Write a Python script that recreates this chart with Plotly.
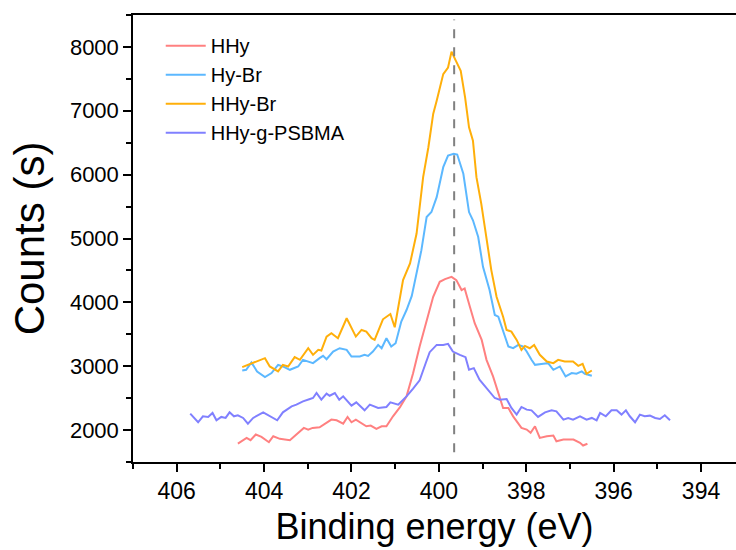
import plotly.graph_objects as go

# ---------------- data ----------------
hhy_x = [404.60, 404.40, 404.31, 404.19, 404.06, 403.89, 403.79, 403.64, 403.41, 403.26,
         403.09, 402.99, 402.89, 402.73, 402.59, 402.46, 402.34, 402.19, 402.09, 402.00,
         401.90, 401.77, 401.66, 401.56, 401.43, 401.31, 401.20, 401.05, 400.89, 400.74,
         400.59, 400.44, 400.28, 400.13, 399.98, 399.86, 399.71, 399.60, 399.48, 399.41,
         399.29, 399.18, 399.02, 398.91, 398.76, 398.64, 398.53, 398.41, 398.30, 398.11,
         397.99, 397.90, 397.80, 397.69, 397.53, 397.38, 397.31, 397.15, 396.92, 396.77,
         396.70, 396.60]
hhy_y = [1789, 1878, 1841, 1930, 1893, 1810, 1903, 1863, 1841, 1930,
         2034, 2008, 2034, 2044, 2101, 2164, 2153, 2101, 2205, 2122,
         2164, 2112, 2060, 2070, 2018, 2060, 2060, 2216, 2360, 2530,
         2890, 3308, 3724, 4088, 4322, 4364, 4400, 4349, 4193, 4219,
         3932, 3673, 3412, 3100, 2840, 2581, 2346, 2346, 2215, 2034,
         2008, 1956, 2059, 1878, 1903, 1914, 1825, 1852, 1852, 1800,
         1758, 1785]

hybr_x = [404.50, 404.41, 404.29, 404.16, 403.98, 403.83, 403.68, 403.57, 403.41, 403.22,
          403.11, 402.99, 402.88, 402.73, 402.65, 402.57, 402.42, 402.27, 402.11, 402.00,
          401.81, 401.70, 401.62, 401.51, 401.39, 401.31, 401.20, 401.09, 400.99, 400.86,
          400.74, 400.62, 400.51, 400.40, 400.28, 400.17, 400.05, 399.90, 399.79, 399.66,
          399.58, 399.44, 399.31, 399.22, 399.10, 398.99, 398.84, 398.72, 398.64, 398.53,
          398.41, 398.30, 398.18, 398.07, 397.99, 397.88, 397.80, 397.61, 397.50, 397.38,
          397.23, 397.10, 396.96, 396.85, 396.73, 396.66, 396.50]
hybr_y = [2933, 2944, 3058, 2918, 2830, 2893, 3022, 2996, 2944, 2996,
          3100, 3074, 3048, 3126, 3162, 3110, 3230, 3282, 3256, 3152,
          3152, 3178, 3162, 3230, 3334, 3282, 3438, 3308, 3360, 3700,
          3880, 4100, 4453, 4817, 5336, 5414, 5648, 6117, 6299, 6326,
          6315, 6013, 5414, 5285, 5024, 4556, 4193, 3802, 3776, 3568,
          3308, 3282, 3334, 3308, 3230, 3100, 3022, 3038, 3048, 2944,
          2996, 2840, 2893, 2882, 2918, 2882, 2850]

hhybr_x = [404.50, 404.37, 404.17, 403.98, 403.87, 403.68, 403.57, 403.45, 403.30, 403.18,
           402.99, 402.88, 402.76, 402.69, 402.57, 402.46, 402.31, 402.11, 401.90, 401.77,
           401.66, 401.54, 401.47, 401.28, 401.11, 401.01, 400.82, 400.66, 400.51, 400.36,
           400.24, 400.13, 400.05, 399.90, 399.79, 399.71, 399.61, 399.50, 399.40, 399.31,
           399.22, 399.14, 399.03, 398.91, 398.80, 398.68, 398.53, 398.45, 398.34, 398.22,
           398.11, 398.03, 397.92, 397.82, 397.69, 397.53, 397.38, 397.27, 397.12, 396.93,
           396.81, 396.71, 396.62, 396.50]
hhybr_y = [2986, 3022, 3074, 3126, 2996, 2918, 3022, 2996, 3142, 3100,
           3282, 3178, 3256, 3246, 3464, 3516, 3438, 3751, 3464, 3568,
           3542, 3438, 3412, 3735, 3818, 3610, 4349, 4609, 5077, 5961,
           6429, 6950, 7158, 7574, 7677, 7927, 7782, 7626, 7209, 6741,
           6533, 5961, 5546, 5024, 4505, 4088, 3776, 3568, 3542, 3412,
           3256, 3318, 3282, 3334, 3178, 3074, 3048, 3100, 3074, 3074,
           3006, 3038, 2882, 2933]

psbma_x = [405.69, 405.51, 405.40, 405.28, 405.18, 405.09, 404.98, 404.88, 404.79, 404.69,
           404.60, 404.48, 404.37, 404.25, 404.02, 403.87, 403.70, 403.57, 403.37, 403.26,
           403.11, 402.95, 402.88, 402.80, 402.69, 402.57, 402.50, 402.38, 402.28, 402.19,
           402.00, 401.89, 401.70, 401.58, 401.39, 401.20, 401.11, 400.93, 400.74, 400.59,
           400.44, 400.30, 400.21, 400.05, 399.90, 399.79, 399.68, 399.52, 399.39, 399.31,
           399.20, 399.07, 398.91, 398.72, 398.61, 398.45, 398.34, 398.22, 398.11, 397.99,
           397.88, 397.73, 397.57, 397.42, 397.31, 397.15, 397.04, 396.93, 396.77, 396.62,
           396.50, 396.39, 396.31, 396.18, 396.05, 395.93, 395.82, 395.72, 395.63, 395.51,
           395.40, 395.29, 395.17, 395.05, 394.94, 394.83, 394.71]
psbma_y = [2258, 2122, 2216, 2206, 2268, 2153, 2206, 2190, 2278, 2216,
           2232, 2190, 2101, 2190, 2278, 2216, 2153, 2278, 2371, 2398,
           2450, 2487, 2502, 2580, 2476, 2570, 2538, 2580, 2476, 2528,
           2382, 2434, 2309, 2398, 2346, 2362, 2434, 2398, 2528, 2650,
           2780, 3050, 3220, 3334, 3334, 3350, 3230, 3178, 3142, 2944,
           2970, 2788, 2658, 2502, 2476, 2487, 2346, 2242, 2362, 2320,
           2309, 2206, 2278, 2309, 2294, 2164, 2190, 2164, 2216, 2164,
           2190, 2153, 2268, 2216, 2309, 2309, 2242, 2309, 2216, 2122,
           2242, 2216, 2226, 2190, 2174, 2232, 2153]

series_names = ["HHy", "Hy-Br", "HHy-Br", "HHy-g-PSBMA"]
series_colors = ["#FF8080", "#5CB8FF", "#FFAF0A", "#8080FF"]
peak_position = 399.65

x_tickvals = [406, 404, 402, 400, 398, 396, 394]
y_tickvals = [2000, 3000, 4000, 5000, 6000, 7000, 8000]

# ---------------- figure ----------------
FONT = "Liberation Sans, Arial, sans-serif"
fig = go.Figure()
for name, xs, ys, col in zip(series_names,
                             [hhy_x, hybr_x, hhybr_x, psbma_x],
                             [hhy_y, hybr_y, hhybr_y, psbma_y],
                             series_colors):
    fig.add_trace(go.Scatter(x=xs, y=ys, mode="lines", name=name,
                             line=dict(color=col, width=2)))

fig.add_shape(type="line", xref="x", yref="paper",
              x0=peak_position, x1=peak_position, y0=0.022, y1=0.99,
              line=dict(color="#808080", width=2, dash="dash"))

fig.update_layout(
    width=736, height=550,
    margin=dict(l=133, r=0, t=15, b=88),
    paper_bgcolor="white", plot_bgcolor="white",
    font=dict(family=FONT, color="black"),
    showlegend=True,
    legend=dict(x=0.046, y=0.975, xanchor="left", yanchor="top",
                font=dict(size=20, family=FONT), bgcolor="rgba(0,0,0,0)",
                tracegroupgap=0, itemwidth=40),
)
fig.update_xaxes(
    range=[407.0, 393.2], showgrid=False, zeroline=False,
    showline=True, linecolor="black", linewidth=1.5, mirror=True,
    ticks="outside", ticklen=8, tickwidth=1.5, tickcolor="black",
    tickvals=x_tickvals, tickfont=dict(size=23, family=FONT),
    minor=dict(dtick=1, tick0=0, ticks="outside", ticklen=5, tickwidth=1.5, tickcolor="black"),
    title=dict(text="Binding energy (eV)", font=dict(size=36, family=FONT), standoff=10),
)
fig.update_yaxes(
    range=[1500, 8500], showgrid=False, zeroline=False,
    showline=True, linecolor="black", linewidth=1.5, mirror=False,
    ticks="outside", ticklen=8, tickwidth=1.5, tickcolor="black",
    tickvals=y_tickvals, tickfont=dict(size=22, family=FONT),
    minor=dict(dtick=500, tick0=0, ticks="outside", ticklen=5, tickwidth=1.5, tickcolor="black"),
    title=dict(text="Counts (s)", font=dict(size=42, family=FONT), standoff=12),
)

fig.write_html("out.html")
